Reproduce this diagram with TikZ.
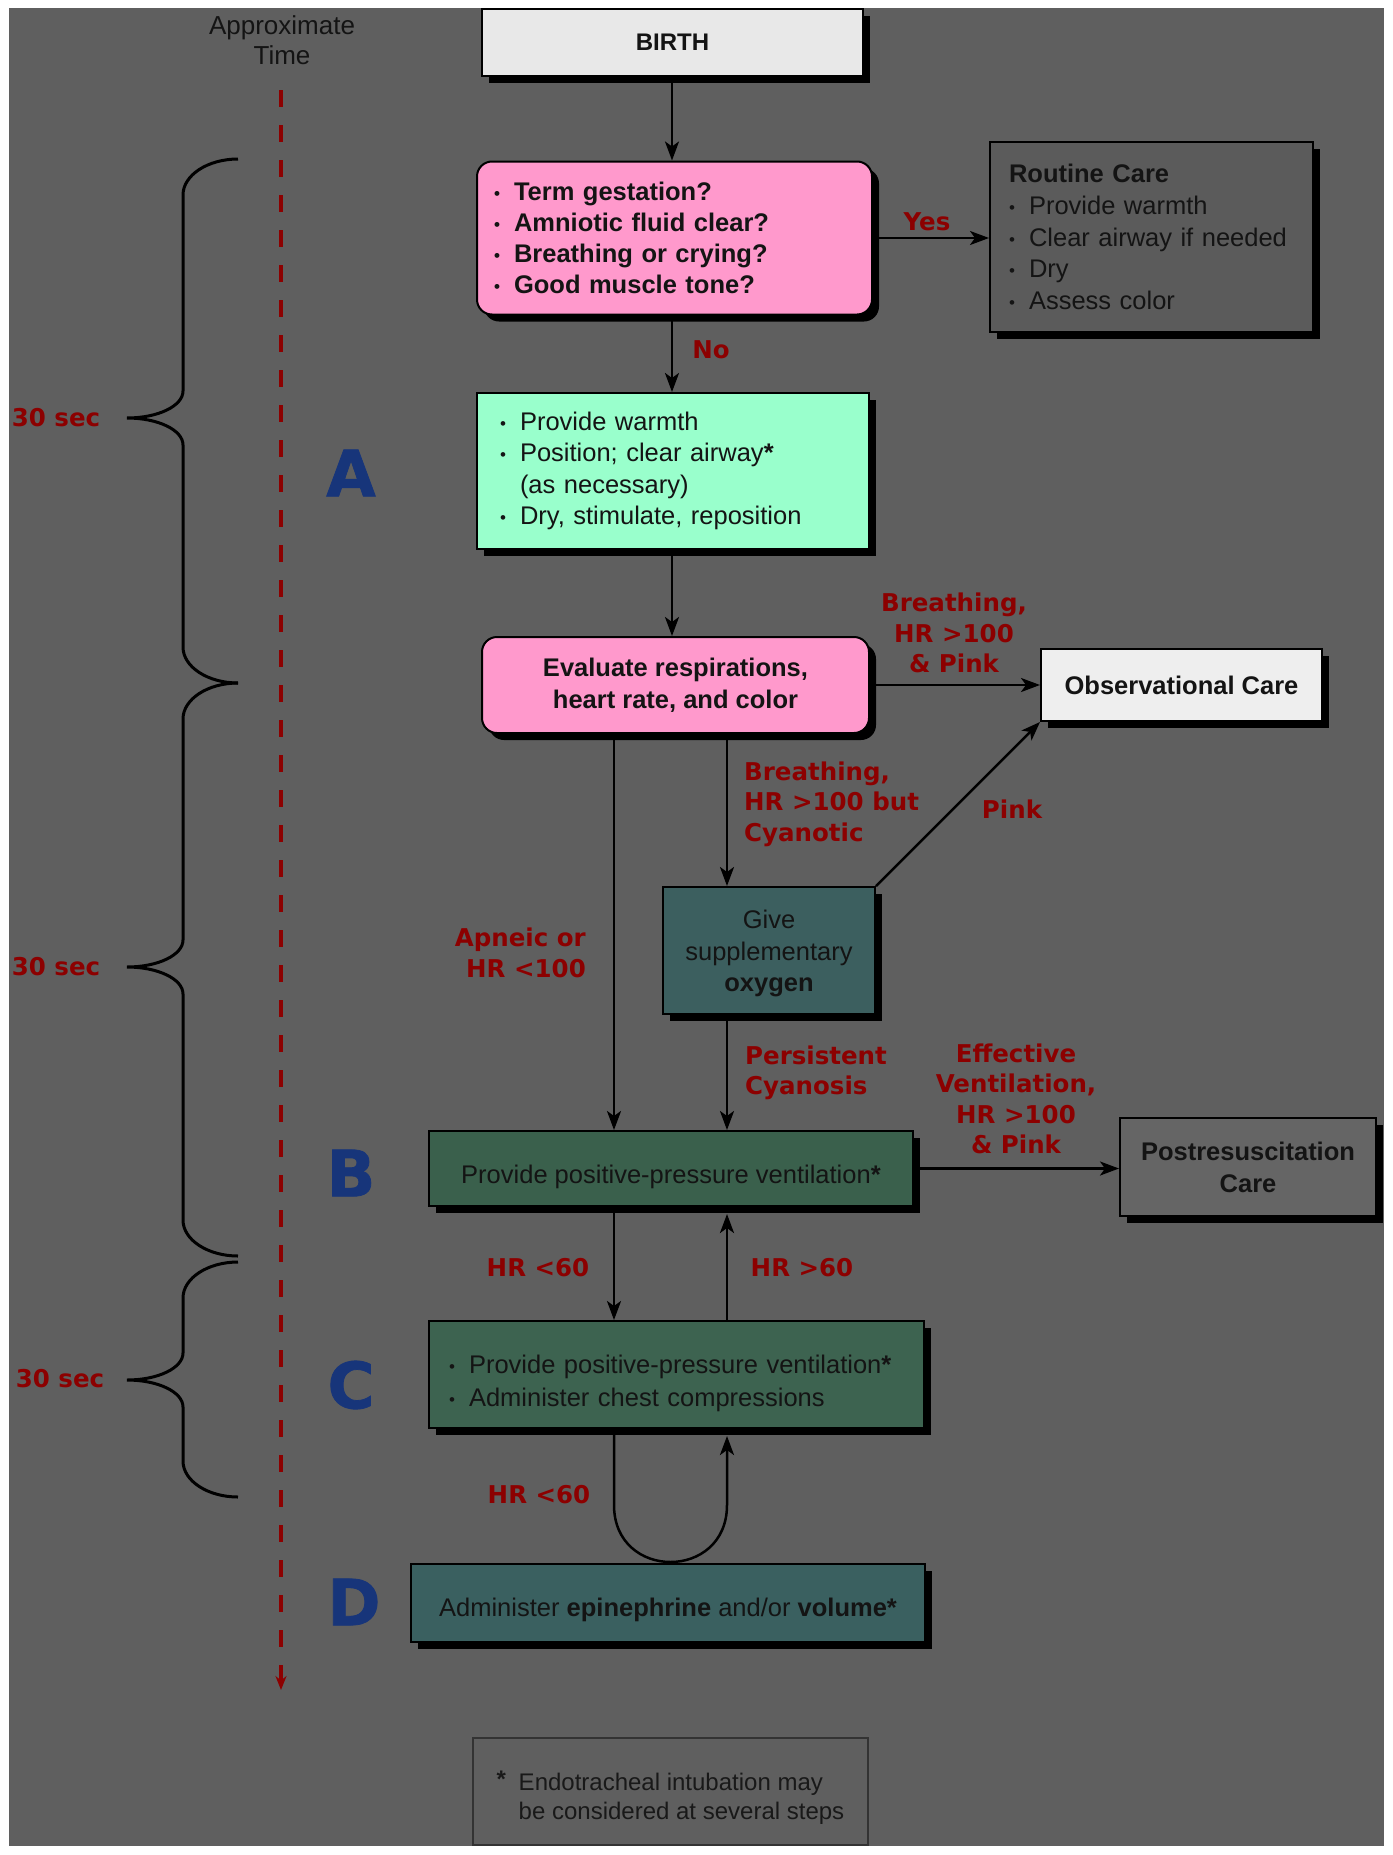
\documentclass[tikz,border=0pt]{standalone}
\usepackage{fontspec}
\setmainfont{Liberation Sans}
\newfontfamily\labfont{DejaVu Sans}
\newfontfamily\bigfont{DejaVu Sans}[BoldFeatures={FakeBold=1.2}]
\usetikzlibrary{arrows.meta,shadows,calc}
\definecolor{bg}{HTML}{5F5F5F}
\definecolor{pinkb}{HTML}{FF99CC}
\definecolor{mint}{HTML}{99FFCC}
\definecolor{lightb}{HTML}{E8E8E8}
\definecolor{obsb}{HTML}{EEEEEE}
\definecolor{routb}{HTML}{5B5B5B}
\definecolor{postb}{HTML}{656565}
\definecolor{teal1}{HTML}{3C5F5F}
\definecolor{green1}{HTML}{3A604C}
\definecolor{green2}{HTML}{3D6350}
\definecolor{teal2}{HTML}{3A6060}
\definecolor{redl}{HTML}{8C0000}
\definecolor{bluel}{HTML}{17357A}
\definecolor{darktext}{HTML}{141414}
\newcommand\bul{\makebox[20pt][l]{\raisebox{1pt}{\fontsize{17}{17}\selectfont\textbullet}}}
\newcommand\lowr[2]{\raisebox{-#1}[\height][\depth]{#2}}
\newcommand\tbrace[3]{\draw[bracestyle] (238,#1) .. controls (208,#1) and (183,{#1+16}) .. (183,{#1+36}) -- (183,{#2-27}) .. controls (183,{#2-12}) and (158,#2) .. (127,#2) .. controls (158,#2) and (183,{#2+12}) .. (183,{#2+27}) -- (183,{#3-36}) .. controls (183,{#3-16}) and (208,#3) .. (238,#3);}
\tikzset{
  box/.style={draw=black, line width=2pt, inner sep=0pt, text=darktext, font=\fontsize{25.5}{31.5}\selectfont},
  shad/.style={drop shadow={shadow xshift=7pt,shadow yshift=-7pt,opacity=1,fill=black}},
  conn/.style={line width=2.5pt,draw=black},
  arr/.style={conn,-{Stealth[length=19pt,width=14pt,inset=5pt]}},
  lbl/.style={text=redl, font=\labfont\bfseries\fontsize{24.5}{30.5}\selectfont, inner sep=0pt},
  letter/.style={text=bluel, font=\bigfont\bfseries\fontsize{64}{64}\selectfont, inner sep=0pt},
  bracestyle/.style={line width=3pt, draw=black},
  reddash/.style={draw=redl, line width=4pt, dash pattern=on 17pt off 18pt}
}
\begin{document}
\begin{tikzpicture}[x=1pt,y=-1pt]
\useasboundingbox (0,0) rectangle (1392,1855);
\fill[white] (0,0) rectangle (1392,1855);
\fill[bg] (9,8) rectangle (1384,1846);

% time axis
\node[font=\fontsize{26}{30}\selectfont, text=darktext, align=center, inner sep=0pt] (apt) at (282,40) {Approximate\\Time};
\coordinate (tstart) at (281,90);
\coordinate (tend) at (281,1690);
\draw[reddash, -{Stealth[length=14pt,width=11pt]}] (tstart) -- (tend);

% braces
\tbrace{159}{418}{683}
\tbrace{683}{967}{1256}
\tbrace{1262}{1380}{1497}

% boxes
\node[box, shad, fill=lightb, minimum width=381pt, minimum height=67pt, font=\bfseries\fontsize{24}{28}\selectfont] (birth) at (672.5,42.5) {BIRTH};

\node[box, shad, fill=pinkb, rounded corners=15pt, minimum width=395pt, minimum height=153pt, text width=361pt, align=left, font=\bfseries\fontsize{25.5}{31}\selectfont] (q1) at (674.5,238)
 {\bul Term gestation?\\ \bul Amniotic fluid clear?\\ \bul Breathing or crying?\\ \bul Good muscle tone?};

\node[box, shad, fill=routb, minimum width=323pt, minimum height=190pt, text width=285pt, align=left, font=\fontsize{25.5}{31.75}\selectfont] (routine) at (1151.5,237)
 {{\bfseries Routine Care}\\ \bul Provide warmth\\ \bul Clear airway if needed\\ \bul Dry\\ \bul Assess color};

\node[box, shad, fill=mint, minimum width=392pt, minimum height=156pt, text width=346pt, align=left, font=\fontsize{25.5}{31.3}\selectfont] (act) at (673,471)
 {\bul Provide warmth\\ \bul Position; clear airway\textbf{*}\\ \makebox[20pt]{}(as necessary)\\ \bul Dry, stimulate, reposition};

\node[box, shad, fill=pinkb, rounded corners=15pt, minimum width=387pt, minimum height=96pt, align=center, font=\bfseries\fontsize{25.5}{32}\selectfont] (eval) at (675.5,685)
 {Evaluate respirations,\\heart rate, and color};

\node[box, shad, fill=obsb, minimum width=281pt, minimum height=72pt, font=\bfseries\fontsize{25.5}{31}\selectfont] (obs) at (1181.5,685) {Observational Care};

\node[box, shad, fill=teal1, minimum width=212pt, minimum height=127pt, align=center] (oxy) at (769,950.5)
 {\lowr{3pt}{Give}\\\lowr{3pt}{supplementary}\\\lowr{3pt}{\textbf{oxygen}}};

\node[box, shad, fill=green1, minimum width=484pt, minimum height=75pt] (ppv) at (671,1168.5)
 {\lowr{8pt}{Provide positive-pressure ventilation\textbf{*}}};

\node[box, shad, fill=postb, minimum width=256pt, minimum height=98pt, align=center, font=\bfseries\fontsize{25.5}{32}\selectfont] (post) at (1248,1167)
 {Postresuscitation\\Care};

\node[box, shad, fill=green2, minimum width=495pt, minimum height=107pt] (cbox) at (676.5,1374.5) {};
\node[inner sep=0pt, text=darktext, text width=455pt, align=left, font=\fontsize{25.5}{33}\selectfont] (ctext) at (676.5,1383)
 {\bul Provide positive-pressure ventilation\textbf{*}\\ \bul Administer chest compressions};

\node[box, shad, fill=teal2, minimum width=514pt, minimum height=78pt] (dbox) at (668,1603)
 {\lowr{7pt}{Administer \textbf{epinephrine} and/or \textbf{volume*}}};

\node[draw=black!80, fill=bg, line width=2pt, inner sep=0pt, minimum width=395pt, minimum height=107pt] (foot) at (670.5,1791.5) {};
\node[inner sep=0pt, align=left, font=\fontsize{24}{29}\selectfont, text=black!90] (foottext) at (670.5,1798)
 {\makebox[22pt][l]{\raisebox{3pt}{\textbf{*}}}Endotracheal intubation may\\\hspace*{22pt}be considered at several steps};

% phase letters
\node[letter] (la) at (351,473) {A};
\node[letter] (lb) at (351,1173) {B};
\node[letter] (lc) at (351,1385) {C};
\node[letter] (ld) at (354,1602) {D};

% connector helper columns
\coordinate (xm) at (672,0);
\coordinate (xl) at (614,0);
\coordinate (xr) at (727,0);

\draw[arr] (birth.south -| xm) -- (q1.north -| xm);
\draw[arr] (q1.south -| xm) -- (act.north -| xm);
\draw[arr] (act.south -| xm) -- (eval.north -| xm);
\draw[arr] (q1.east) -- (q1.east -| routine.west);
\draw[arr] (eval.east) -- (eval.east -| obs.west);
\draw[arr] (eval.south -| xl) -- (ppv.north -| xl);
\draw[arr] (eval.south -| xr) -- (oxy.north -| xr);
\draw[arr] (oxy.north east) -- (obs.south west);
\draw[arr] (oxy.south -| xr) -- (ppv.north -| xr);
\draw[arr] (ppv.east) -- (ppv.east -| post.west);
\draw[arr] (ppv.south -| xl) -- (cbox.north -| xl);
\draw[arr] (cbox.north -| xr) -- ($(ppv.south -| xr)+(0,7)$);
\draw[arr] (cbox.south -| xl) -- (614,1505) .. controls (614,1581) and (727,1581) .. (727,1505) -- ($(cbox.south -| xr)+(0,7)$);

% labels
\node[lbl] (yes) at (927,222) {Yes};
\node[lbl] (no) at (711,350) {No};
\node[lbl, align=center] (l1) at (954,633) {Breathing,\\HR >100\\\& Pink};
\node[lbl, align=left, anchor=west] (l2) at (744,804) {Breathing,\\HR >100 but\\Cyanotic};
\node[lbl] (pinkl) at (1012,809) {Pink};
\node[lbl, align=right, anchor=east] (apn) at (586,953) {Apneic or\\HR <100};
\node[lbl, align=left, anchor=west] (pers) at (745,1073) {Persistent\\Cyanosis};
\node[lbl, align=center] (eff) at (1016,1099) {Effective\\Ventilation,\\HR >100\\\& Pink};
\node[lbl] (h1) at (538,1268) {HR <60};
\node[lbl] (h2) at (802,1268) {HR >60};
\node[lbl] (h3) at (539,1495) {HR <60};
\node[lbl] (s1) at (56,418) {30 sec};
\node[lbl] (s2) at (56,967) {30 sec};
\node[lbl] (s3) at (60,1379) {30 sec};
\end{tikzpicture}
\end{document}
